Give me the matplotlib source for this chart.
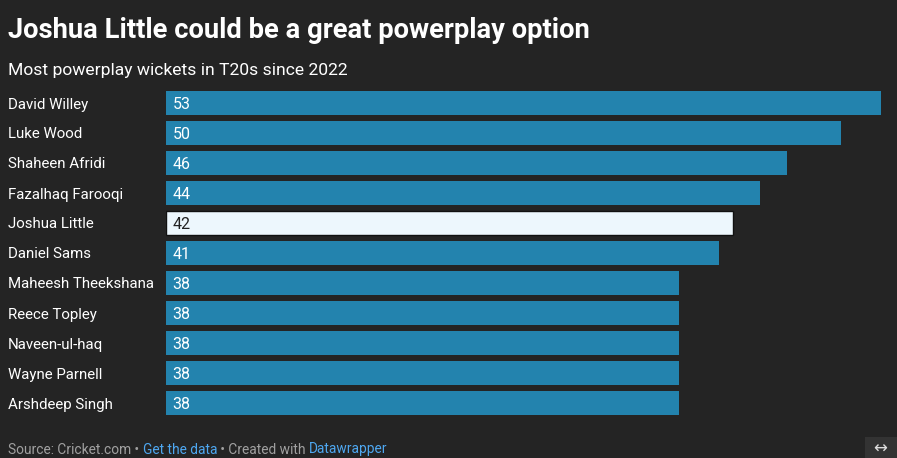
import matplotlib.pyplot as plt
from matplotlib.patches import Rectangle

players = ['David Willey', 'Luke Wood', 'Shaheen Afridi', 'Fazalhaq Farooqi', 'Joshua Little',
           'Daniel Sams', 'Maheesh Theekshana', 'Reece Topley', 'Naveen-ul-haq', 'Wayne Parnell',
           'Arshdeep Singh']
wickets = [53, 50, 46, 44, 42, 41, 38, 38, 38, 38, 38]
highlight = 'Joshua Little'

BG = '#242424'
BAR = '#2383ae'
HL = '#edf7fd'

plt.rcParams['font.family'] = ['Roboto', 'DejaVu Sans']

W, H = 897, 458
fig = plt.figure(figsize=(W / 100, H / 100), dpi=100, facecolor=BG)

# axes placed in pixel terms: bars from x=166 to 881 (53), rows 88..418
ax = fig.add_axes([166 / W, 1 - 418 / H, 715 / W, 330 / H])
ax.set_facecolor(BG)
ax.set_xlim(0, 53)
ax.set_ylim(len(players) - 0.5, -0.5)
ax.axis('off')

for i, (name, val) in enumerate(zip(players, wickets)):
    is_hl = name == highlight
    ax.barh(i, val, height=0.83, color=HL if is_hl else BAR,
            edgecolor='#111111' if is_hl else 'none', linewidth=1 if is_hl else 0)
    ax.text(0.5, i + 0.04, str(val), va='center', ha='left', fontsize=11.5,
            color='#222222' if is_hl else 'white')
    fig.text(8 / W, 1 - (104.5 + 30 * i) / H, name, va='center', ha='left',
             fontsize=10.8, color='white')

fig.text(8 / W, 1 - 30 / H, 'Joshua Little could be a great powerplay option',
         fontsize=19.7, fontweight='bold', color='white', va='center', ha='left')
fig.text(8 / W, 1 - 70 / H, 'Most powerplay wickets in T20s since 2022',
         fontsize=12.6, color='white', va='center', ha='left')

# footer
parts = [('Source: Cricket.com • ', '#a0a0a0'), ('Get the data', '#4ea7f0'),
         (' • Created with ', '#a0a0a0'), ('Datawrapper', '#4ea7f0')]
x = 8
renderer = fig.canvas.get_renderer()
for txt, col in parts:
    t = fig.text(x / W, 1 - 449.5 / H, txt, fontsize=9.9, color=col, va='center', ha='left')
    x += t.get_window_extent(renderer).width

fig.patches.append(Rectangle((865 / W, 0), 32 / W, 21 / H, transform=fig.transFigure,
                             facecolor='#333333', edgecolor='none'))
fig.text(880 / W, 1 - 449 / H, '↔', fontsize=12, color='#dddddd', va='center', ha='center',
         family='DejaVu Sans')

fig.savefig('out.png', dpi=100, facecolor=BG)
